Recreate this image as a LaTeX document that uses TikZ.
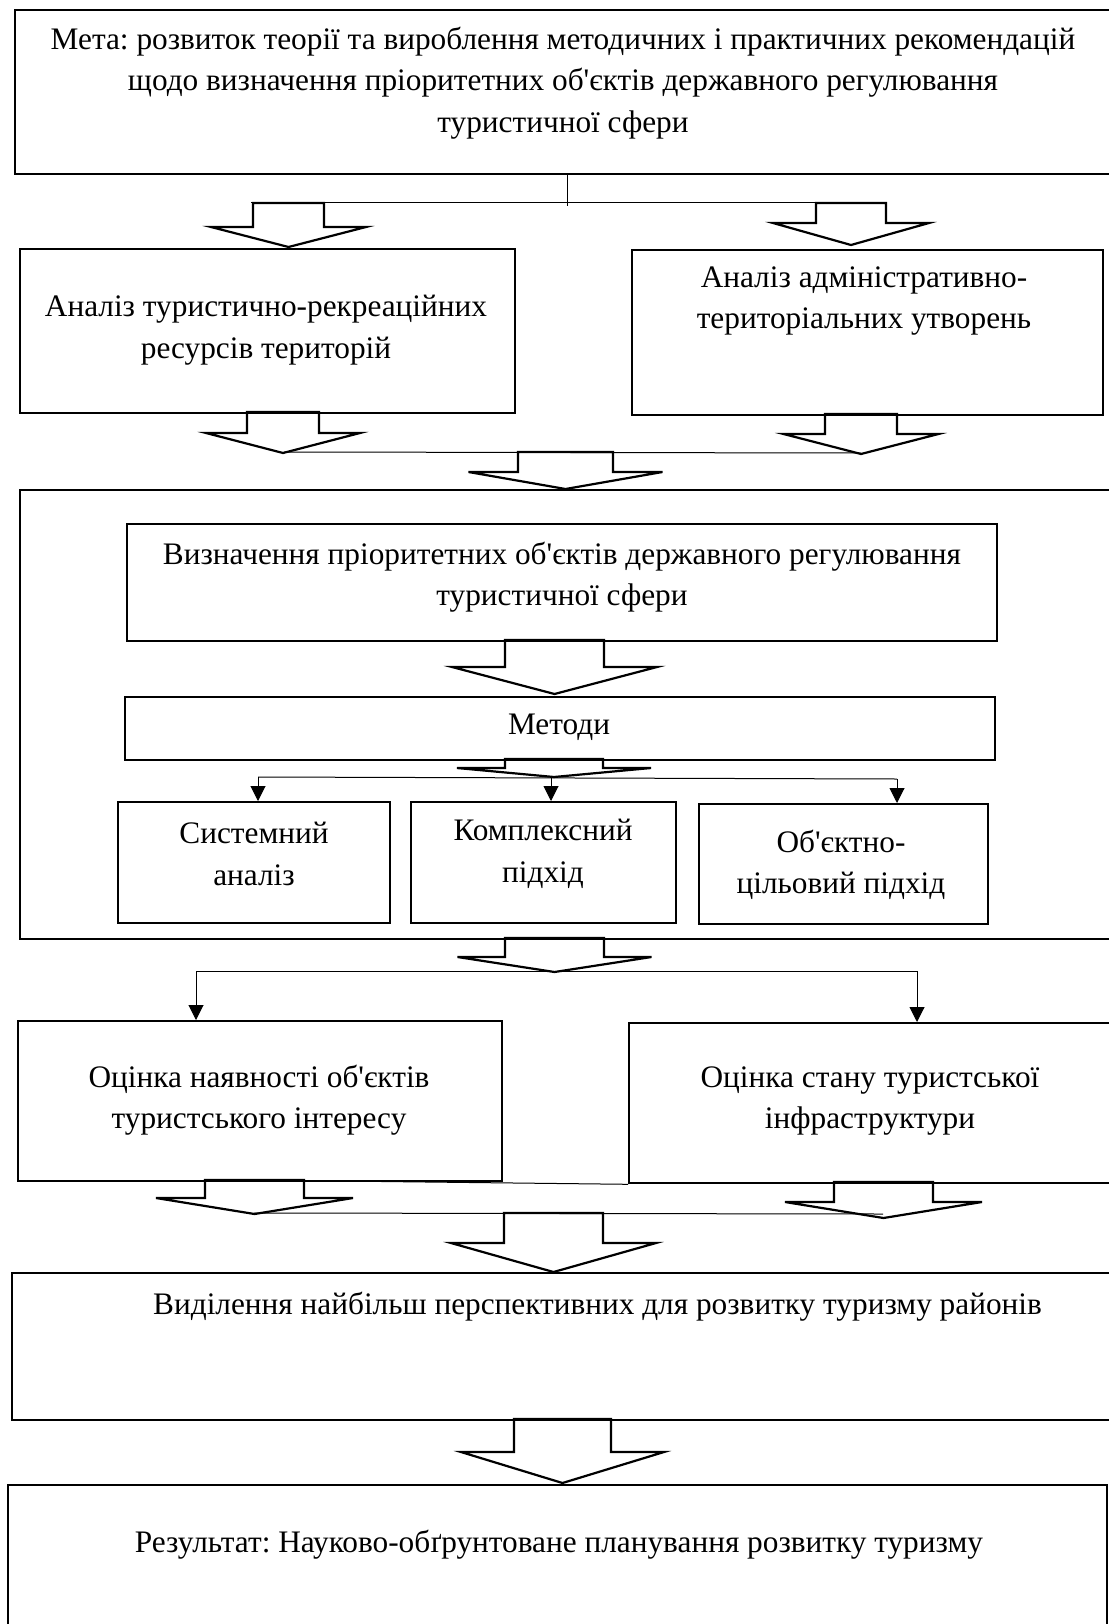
\documentclass[tikz,border=0pt]{standalone}
\usepackage{fontspec}
\setmainfont[Ligatures=TeXOff]{Liberation Serif}
\usetikzlibrary{arrows.meta}
\frenchspacing
\newcommand\blockarr[6]{% cx, top y, shaft half width, base y, wing half width, tip y
  \draw[barrow] (#1-#3,#2) -- (#1-#3,#4) -- (#1-#5,#4) -- (#1,#6) -- (#1+#5,#4) -- (#1+#3,#4) -- (#1+#3,#2) -- cycle;}
\begin{document}
\begin{tikzpicture}[x=1pt,y=-1pt,
  box/.style={draw, line width=2.3pt, inner sep=0pt, anchor=north west},
  barrow/.style={draw, line width=2.2pt, line join=miter},
  thin/.style={draw, line width=1pt},
  thinarr/.style={thin, -{Triangle[length=15pt,width=15pt]}},
  txt/.style={inner sep=0pt, align=center, font=\fontsize{31.3}{41.5}\selectfont\frenchspacing}]
\useasboundingbox (0,0) rectangle (1108,1624);
\fill[white] (0,0) rectangle (1108,1624);

% boxes
\node[box, minimum width=1099pt, minimum height=164pt] (goal) at (14,9) {};
\node[box, minimum width=495pt, minimum height=164pt] (anL) at (19,248) {};
\node[box, minimum width=471pt, minimum height=165pt] (anR) at (631,249) {};
\node[box, minimum width=1094pt, minimum height=449pt] (big) at (19,489) {};
\node[box, minimum width=870pt, minimum height=117pt] (viz) at (126,523) {};
\node[box, minimum width=870pt, minimum height=63pt] (met) at (124,696) {};
\node[box, minimum width=272pt, minimum height=121pt] (sys) at (117,801) {};
\node[box, minimum width=265pt, minimum height=121pt] (kom) at (410,801) {};
\node[box, minimum width=289pt, minimum height=120pt] (obj) at (698,803) {};
\node[box, minimum width=484pt, minimum height=160pt] (ocL) at (17,1020) {};
\node[box, minimum width=485pt, minimum height=160pt] (ocR) at (628,1022) {};
\node[box, minimum width=1102pt, minimum height=147pt] (vyd) at (11,1272) {};
\node[box, minimum width=1099pt, minimum height=160pt] (rez) at (7,1484) {};

% texts
\node[txt] (tgoal) at (563,83) {Мета: розвиток теорії та вироблення методичних і практичних рекомендацій\\щодо визначення пріоритетних об'єктів державного регулювання\\туристичної сфери};
\node[txt] (tanL) at (266,330) {Аналіз туристично-рекреаційних\\ресурсів територій};
\node[txt] (tanR) at (864,301) {Аналіз адміністративно-\\територіальних утворень};
\node[txt] (tviz) at (562,577) {Визначення пріоритетних об'єктів державного регулювання\\туристичної сфери};
\node[txt] (tmet) at (559,727) {Методи};
\node[txt] (tsys) at (254,854) {Системний\\аналіз};
\node[txt] (tkom) at (543,854) {Комплексний\\підхід};
\node[txt] (tobj) at (841,865) {Об'єктно-\\цільовий підхід};
\node[txt] (tocL) at (259,1100) {Оцінка наявності об'єктів\\туристського інтересу};
\node[txt] (tocR) at (870,1101) {Оцінка стану туристської\\інфраструктури};
\node[txt, anchor=west] (tvyd) at (153,1307) {Виділення найбільш перспективних для розвитку туризму районів};
\node[txt] (trez) at (559,1545) {Результат: Науково-обґрунтоване планування розвитку туризму};

% thin connectors
\coordinate (b1) at (567,203);
\draw[thin] (goal.south -| b1) -- (567,206);
\draw[thin] (251,203) -- (883,203);
\draw[thin] (284,452) -- (861,453);
\coordinate (bus2L) at (258,777);
\coordinate (bus2R) at (897,779);
\draw[thin] (bus2L) -- (bus2R);
\draw[thinarr] (bus2L) -- (bus2L |- sys.north);
\draw[thinarr] (551,777) -- (551,801);
\draw[thinarr] (bus2R) -- (bus2R |- obj.north);
\coordinate (bus3L) at (196,971);
\coordinate (bus3R) at (917,971);
\draw[thin] (bus3L) -- (bus3R);
\draw[thinarr] (bus3L) -- (bus3L |- ocL.north);
\draw[thinarr] (bus3R) -- (bus3R |- ocR.north);
\draw[thin] (251,1180) -- (ocR.south west);
\draw[thin] (254,1213) -- (883,1214);

% block arrows
\blockarr{288.5}{203}{35.5}{227}{77.5}{247}
\blockarr{851}{203}{35}{223}{78}{245}
\blockarr{283}{412}{36}{433}{77}{453}
\blockarr{861}{414}{36}{434}{77.5}{454}
\blockarr{565.5}{452}{47.5}{472}{97}{489}
\blockarr{554.5}{640}{49.5}{667}{102.5}{694}
\blockarr{554}{759}{49}{768}{97}{777}
\blockarr{554.5}{938}{49.5}{957}{97}{972}
\blockarr{254.5}{1180}{49.5}{1198}{98.5}{1214}
\blockarr{883.5}{1182}{49.5}{1202}{98.5}{1218}
\blockarr{553.5}{1213}{49.5}{1243}{102.5}{1272}
\blockarr{562.5}{1419}{48.5}{1452}{101.5}{1483}
\end{tikzpicture}
\end{document}
